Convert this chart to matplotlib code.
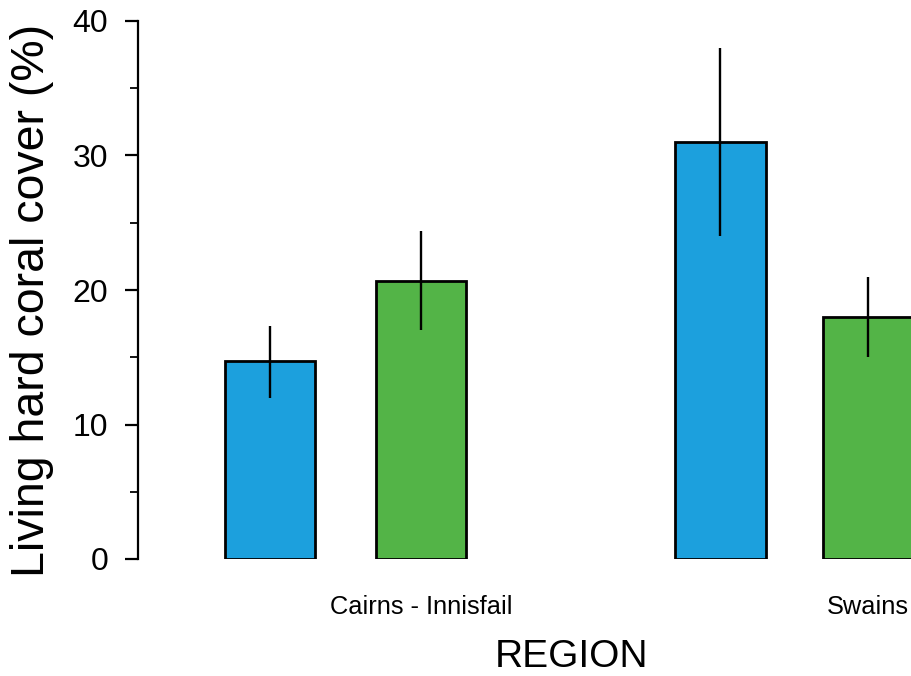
import matplotlib
matplotlib.use("Agg")
import matplotlib.pyplot as plt
from matplotlib.ticker import MultipleLocator

plt.rcParams['font.family'] = ['Liberation Sans', 'DejaVu Sans']

regions = ["Cairns - Innisfail", "Swains"]
values = [14.7, 20.7, 31.0, 18.0]
err_low = [12.0, 17.0, 24.0, 15.0]
err_high = [17.3, 24.4, 38.0, 21.0]
colors = ["#1CA0DD", "#53B447", "#1CA0DD", "#53B447"]

# layout (bar slots along the x axis)
positions = [0, 1, 2.983, 3.96]
label_positions = [1, 3.96]

W, H = 912, 676
fig = plt.figure(figsize=(W / 100, H / 100), dpi=100)
left_px, right_px, top_px, bottom_px = 138, 912, 21, 559
ax = fig.add_axes([left_px / W, 1 - bottom_px / H, (right_px - left_px) / W, (bottom_px - top_px) / H])

ax.bar(positions, values, width=0.6, color=colors, edgecolor="black", linewidth=2.0, zorder=2)
yerr = [[v - lo for v, lo in zip(values, err_low)], [hi - v for v, hi in zip(values, err_high)]]
ax.errorbar(positions, values, yerr=yerr, fmt="none", ecolor="black", elinewidth=1.7, capsize=0, zorder=3)

ax.set_xlim(-0.874, 4.252)
ax.set_ylim(0, 40)
for s in ["top", "right", "bottom"]:
    ax.spines[s].set_visible(False)
ax.spines["left"].set_linewidth(1.6)

ax.yaxis.set_major_locator(MultipleLocator(10))
ax.yaxis.set_minor_locator(MultipleLocator(5))
ax.tick_params(axis="y", which="major", length=9.5, width=1.6, labelsize=23, pad=12)
ax.tick_params(axis="y", which="minor", length=6, width=1.3)
ax.set_xticks(label_positions)
ax.set_xticklabels(regions, fontsize=18.3)
ax.tick_params(axis="x", length=0, pad=26)

fig.text(32 / W, 1 - 300 / H, "Living hard coral cover (%)", rotation=90,
         ha="center", va="center", fontsize=33.5)
fig.text(572 / W, 1 - 667 / H, "REGION", ha="center", va="baseline", fontsize=28)

fig.savefig("out.png", dpi=100)
